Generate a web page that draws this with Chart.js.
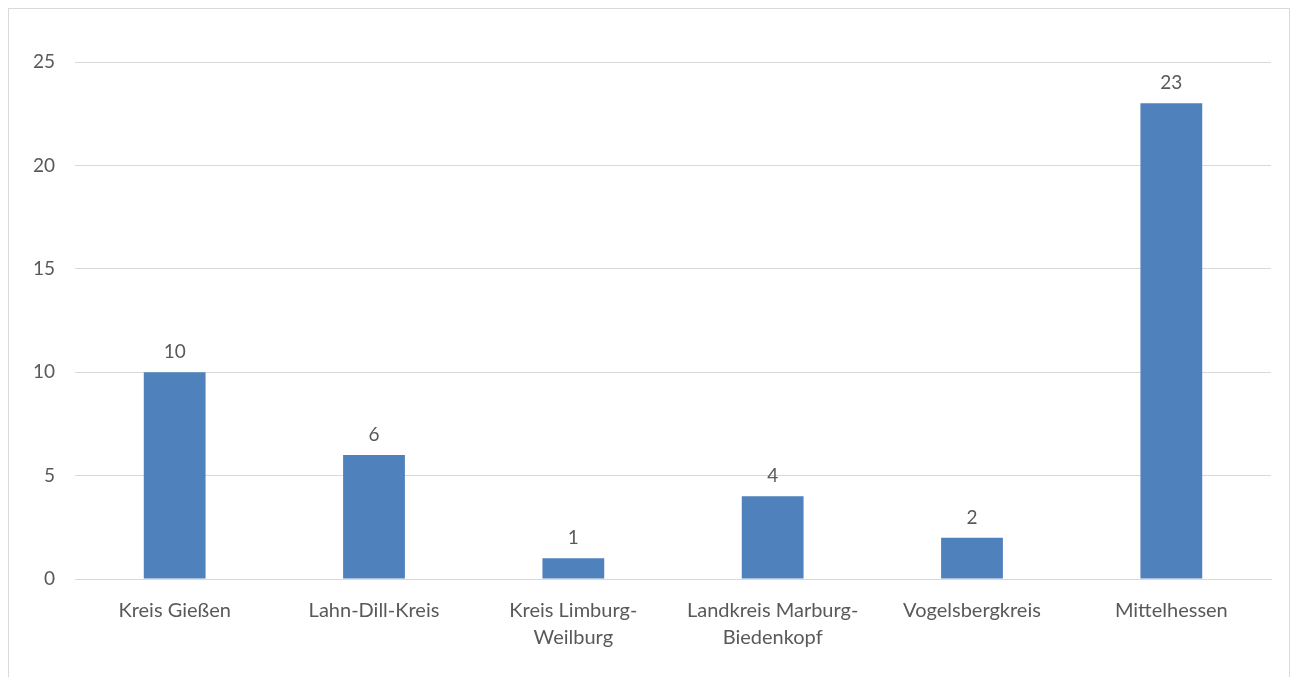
<!DOCTYPE html>
<html>
<head>
<meta charset="utf-8">
<script src="https://cdn.jsdelivr.net/npm/chart.js@4/dist/chart.umd.min.js"></script>
<style>
  html, body { margin: 0; padding: 0; background: #ffffff; }
  #wrap { position: relative; width: 1295px; height: 677px; overflow: hidden; }
  #frame { position: absolute; left: 8px; top: 8px; width: 1282px; height: 720px; border: 1px solid #d9d9d9; box-sizing: border-box; pointer-events: none; }
  canvas { position: absolute; left: 0; top: 0; }
</style>
</head>
<body>
<div id="wrap">
  <canvas id="c" width="1295" height="677"></canvas>
  <div id="frame"></div>
</div>
<script>
const categories = [
  "Kreis Gießen",
  "Lahn-Dill-Kreis",
  ["Kreis Limburg-", "Weilburg"],
  ["Landkreis Marburg-", "Biedenkopf"],
  "Vogelsbergkreis",
  "Mittelhessen"
];
const values = [10, 6, 1, 4, 2, 23];
const yTicks = [0, 5, 10, 15, 20, 25];

const textColor = "#595959";
const fontFamily = "Lato, 'Open Sans', sans-serif";

// value labels above each bar
const valueLabels = {
  id: "valueLabels",
  afterDatasetsDraw(chart) {
    const ctx = chart.ctx;
    const meta = chart.getDatasetMeta(0);
    ctx.save();
    ctx.fillStyle = textColor;
    ctx.font = "19px " + fontFamily;
    ctx.textAlign = "center";
    ctx.textBaseline = "middle";
    meta.data.forEach((bar, i) => {
      ctx.fillText(String(values[i]), bar.x, bar.y - 20);
    });
    ctx.restore();
  }
};

new Chart(document.getElementById("c"), {
  type: "bar",
  data: {
    labels: categories,
    datasets: [{
      data: values,
      backgroundColor: "#4f81bd",
      borderWidth: 0,
      categoryPercentage: 1,
      barPercentage: 0.31
    }]
  },
  options: {
    responsive: false,
    animation: false,
    layout: { padding: { top: 62, right: 24, bottom: 0, left: 0 } },
    plugins: { legend: { display: false }, tooltip: { enabled: false } },
    scales: {
      x: {
        grid: { display: false, drawTicks: false },
        border: { display: true, color: "#d9d9d9", width: 1 },
        ticks: {
          color: textColor,
          font: { family: fontFamily, size: 20, lineHeight: 1.35 },
          padding: 18,
          maxRotation: 0,
          autoSkip: false
        },
        afterFit(scale) { scale.height = 98; }
      },
      y: {
        min: 0,
        max: 25,
        afterBuildTicks(scale) { scale.ticks = yTicks.map(v => ({ value: v })); },
        grid: { color: "#d9d9d9", lineWidth: 1, drawTicks: false },
        border: { display: false },
        ticks: {
          color: textColor,
          font: { family: fontFamily, size: 19 },
          padding: 20
        },
        afterFit(scale) { scale.width = 75; }
      }
    }
  },
  plugins: [valueLabels]
});
</script>
</body>
</html>
